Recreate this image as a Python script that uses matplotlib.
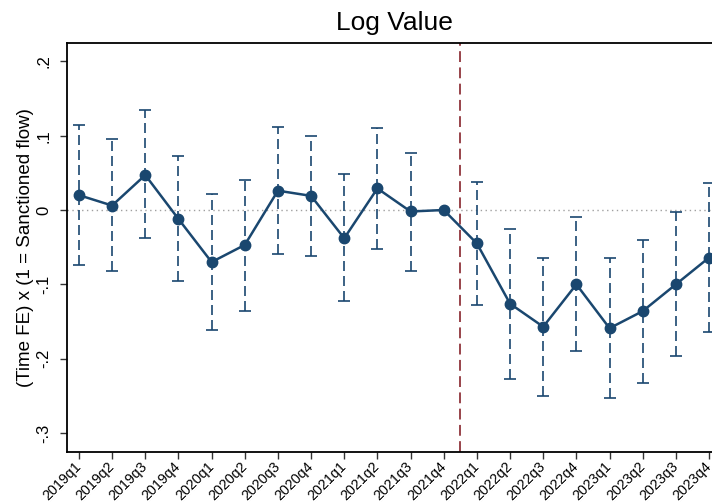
import matplotlib.pyplot as plt
import numpy as np

# quarterly coefficients with 95% confidence bounds (2021q4 = reference period)
quarters = ["2019q1", "2019q2", "2019q3", "2019q4",
            "2020q1", "2020q2", "2020q3", "2020q4",
            "2021q1", "2021q2", "2021q3", "2021q4",
            "2022q1", "2022q2", "2022q3", "2022q4",
            "2023q1", "2023q2", "2023q3", "2023q4"]
coef = [0.020, 0.006, 0.047, -0.012, -0.070, -0.047, 0.026, 0.019,
        -0.038, 0.029, -0.002, 0.000, -0.045, -0.126, -0.157, -0.100,
        -0.159, -0.136, -0.100, -0.064]
ci_hi = [0.114, 0.095, 0.134, 0.073, 0.022, 0.040, 0.112, 0.100,
         0.048, 0.110, 0.077, np.nan, 0.038, -0.025, -0.064, -0.009,
         -0.064, -0.041, -0.003, 0.036]
ci_lo = [-0.074, -0.082, -0.038, -0.096, -0.161, -0.136, -0.059, -0.062,
         -0.122, -0.052, -0.082, np.nan, -0.128, -0.227, -0.250, -0.190,
         -0.253, -0.232, -0.196, -0.164]
yticks = [-0.3, -0.2, -0.1, 0, 0.1, 0.2]
ytick_labels = ["-.3", "-.2", "-.1", "0", ".1", ".2"]
event_pos = 11.5  # between 2021q4 and 2022q1

plt.rcParams["font.family"] = ["Liberation Sans", "DejaVu Sans"]

navy = "#1a476f"
x = np.arange(len(quarters))
coef = np.array(coef)
hi = np.array(ci_hi)
lo = np.array(ci_lo)

fig = plt.figure(figsize=(7.12, 5.04), dpi=100)
ax = fig.add_axes([0.0941, 0.1038, 0.9185, 0.8115])

ax.axhline(0, color="#a0a0a0", lw=1.0, ls=(0, (1, 2.5)), zorder=1)
ax.axvline(event_pos, color="#90353b", lw=1.3, ls=(0, (6, 3)), zorder=1)

eb = ax.errorbar(x, coef, yerr=[coef - lo, hi - coef], fmt="none",
                 ecolor=navy, elinewidth=1.2, capsize=4, capthick=1.2, zorder=2)
eb[2][0].set_linestyle((0, (6, 3)))

ax.plot(x, coef, color=navy, lw=1.8, marker="o", markersize=7.5,
        markerfacecolor=navy, markeredgecolor=navy, zorder=3, clip_on=False)

ax.set_xlim(-0.36, 19.36)
ax.set_ylim(-0.325, 0.225)
ax.set_xticks(x)
ax.set_xticklabels(quarters, rotation=45, ha="right", va="center",
                   rotation_mode="anchor", fontsize=10.3)
ax.set_yticks(yticks)
ax.set_yticklabels(ytick_labels, rotation=90, va="center", fontsize=12)
ax.tick_params(axis="both", direction="out", length=5, width=1, color="#333333")
ax.tick_params(axis="x", pad=4)
ax.tick_params(axis="y", pad=6)

for side in ["left", "bottom", "top"]:
    ax.spines[side].set_linewidth(1.3)
    ax.spines[side].set_color("black")
ax.spines["right"].set_visible(False)

ax.set_ylabel("(Time FE) x (1 = Sanctioned flow)", fontsize=13.5, labelpad=2)
ax.set_title("Log Value", fontsize=19, pad=9)

fig.savefig("out.png", dpi=100)
